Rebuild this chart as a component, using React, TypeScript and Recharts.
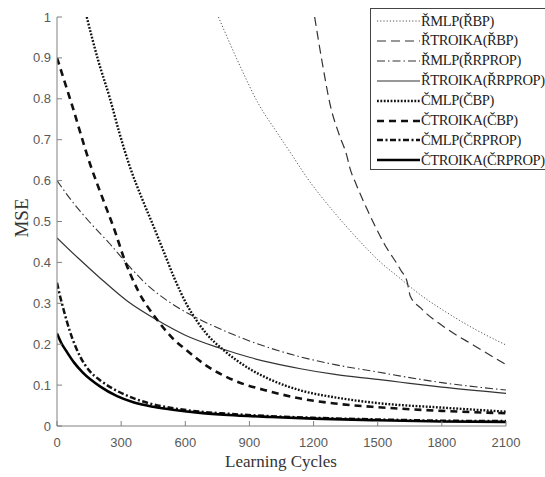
import { LineChart, Line, XAxis, YAxis } from "recharts";

// Learning-cycle / MSE pairs, one list per training run.
const rMlpRbp = [
  [755, 1], [858, 0.878], [940, 0.79], [1031, 0.716], [1100, 0.662], [1172, 0.605], [1233, 0.563],
  [1350, 0.49], [1452, 0.432], [1514, 0.4], [1600, 0.363], [1669, 0.333], [1750, 0.302],
  [1800, 0.285], [1950, 0.238], [2100, 0.198],
];
const rTroikaRbp = [
  [1205, 1], [1240, 0.89], [1280, 0.78], [1320, 0.712], [1356, 0.66], [1368, 0.634], [1400, 0.59],
  [1452, 0.528], [1529, 0.447], [1608, 0.381], [1638, 0.352], [1652, 0.318], [1702, 0.288],
  [1828, 0.236], [1950, 0.197], [2100, 0.15],
];
const rMlpRrprop = [
  [0, 0.6], [61, 0.556], [150, 0.5], [248, 0.445], [330, 0.395], [422, 0.345], [540, 0.298],
  [670, 0.26], [800, 0.229], [900, 0.208], [1000, 0.19], [1139, 0.169], [1300, 0.15],
  [1500, 0.132], [1608, 0.122], [1800, 0.106], [2100, 0.088],
];
const rTroikaRrprop = [
  [0, 0.46], [100, 0.41], [201, 0.362], [330, 0.305], [468, 0.259], [600, 0.222], [764, 0.19],
  [900, 0.168], [1000, 0.155], [1139, 0.14], [1300, 0.126], [1500, 0.114], [1608, 0.107],
  [1800, 0.095], [2100, 0.08],
];
const cMlpCbp = [
  [139, 1], [192, 0.895], [248, 0.8], [290, 0.72], [340, 0.635], [400, 0.553], [450, 0.49],
  [500, 0.425], [550, 0.36], [609, 0.295], [650, 0.26], [700, 0.225], [778, 0.186], [900, 0.14],
  [1000, 0.113], [1139, 0.087], [1300, 0.07], [1500, 0.056], [1800, 0.045], [2100, 0.035],
];
const cTroikaCbp = [
  [0, 0.9], [70, 0.785], [155, 0.64], [216, 0.553], [272, 0.475], [310, 0.415],
  [380, 0.33], [468, 0.26], [540, 0.215], [609, 0.184], [700, 0.147], [826, 0.112],
  [1000, 0.084], [1139, 0.067], [1300, 0.055], [1500, 0.046], [1800, 0.037], [2100, 0.031],
];
const cMlpCrprop = [
  [0, 0.35], [15, 0.316], [30, 0.286], [60, 0.232], [108, 0.17], [150, 0.136], [201, 0.112],
  [280, 0.086], [357, 0.068], [450, 0.053], [550, 0.043], [670, 0.035], [800, 0.03],
  [1000, 0.024], [1200, 0.02], [1500, 0.016], [1800, 0.013], [2100, 0.012],
];
const cTroikaCrprop = [
  [0, 0.226], [20, 0.203], [45, 0.182], [80, 0.155], [122, 0.13], [201, 0.097], [281, 0.073],
  [357, 0.058], [450, 0.047], [550, 0.039], [670, 0.032], [800, 0.027], [1000, 0.022],
  [1200, 0.018], [1500, 0.014], [1800, 0.011], [2100, 0.01],
];

const xTicks = [0, 300, 600, 900, 1200, 1500, 1800, 2100];
const yTicks = [0, 0.1, 0.2, 0.3, 0.4, 0.5, 0.6, 0.7, 0.8, 0.9, 1];

const seriesNames = [
  "ŘMLP(ŘBP)", "ŘTROIKA(ŘBP)", "ŘMLP(ŘRPROP)", "ŘTROIKA(ŘRPROP)",
  "ČMLP(ČBP)", "ČTROIKA(ČBP)", "ČMLP(ČRPROP)", "ČTROIKA(ČRPROP)",
];
const seriesData = [rMlpRbp, rTroikaRbp, rMlpRrprop, rTroikaRrprop, cMlpCbp, cTroikaCbp, cMlpCrprop, cTroikaCrprop];

// line looks, MATLAB-ish: thin styles for Ř runs, bold ones for Č runs
const styles = [
  { stroke: "#555", width: 1, dash: "1.2 2" },
  { stroke: "#333", width: 1.2, dash: "9 5" },
  { stroke: "#333", width: 1.1, dash: "8 3 1.5 3" },
  { stroke: "#333", width: 1.2, dash: undefined },
  { stroke: "#111", width: 2.4, dash: "1.8 1.6" },
  { stroke: "#111", width: 2.6, dash: "7 5" },
  { stroke: "#111", width: 2.5, dash: "6 2.5 2 2.5" },
  { stroke: "#000", width: 2.6, dash: undefined },
];

const AXIS = "#808080";
const TICK_TEXT = "#595959";
const SANS = "'Liberation Sans', Arial, sans-serif";
const SERIF = "'Liberation Serif', 'Times New Roman', serif";

const fmtY = (v: number) => (v === 0 || v === 1 ? String(v) : v.toFixed(1));

// ticks point inward, like MATLAB's box axes
const BottomTick = ({ x, y, payload }: any) => (
  <g>
    <line x1={x} y1={y} x2={x} y2={y - 5} stroke={AXIS} />
    <text x={x} y={y + 21} textAnchor="middle" fontFamily={SANS} fontSize={13} fill={TICK_TEXT}>
      {payload.value}
    </text>
  </g>
);
const LeftTick = ({ x, y, payload }: any) => (
  <g>
    <line x1={x} y1={y} x2={x + 5} y2={y} stroke={AXIS} />
    <text x={x - 6} y={y + 4.5} textAnchor="end" fontFamily={SANS} fontSize={13} fill={TICK_TEXT}>
      {fmtY(payload.value)}
    </text>
  </g>
);
const TopTick = ({ x, y }: any) => <line x1={x} y1={y} x2={x} y2={y + 5} stroke={AXIS} />;
const RightTick = ({ x, y }: any) => <line x1={x} y1={y} x2={x - 5} y2={y} stroke={AXIS} />;

function LegendBox() {
  return (
    <div
      style={{
        position: "absolute",
        left: 370,
        top: 8,
        width: 180,
        height: 162,
        boxSizing: "border-box",
        border: "1px solid #444",
        background: "#fff",
      }}
    >
      {seriesNames.map((name, i) => {
        const s = styles[i];
        return (
          <div
            key={name}
            style={{ position: "absolute", left: 0, top: 2 + i * 19.9, height: 20, display: "flex", alignItems: "center" }}
          >
            <svg width={50} height={20}>
              <line x1={6} y1={10} x2={49} y2={10} stroke={s.stroke} strokeWidth={s.width} strokeDasharray={s.dash} />
            </svg>
            <span style={{ fontFamily: SERIF, fontSize: 14.5, color: "#222", letterSpacing: -0.4, whiteSpace: "nowrap" }}>
              {name}
            </span>
          </div>
        );
      })}
    </div>
  );
}

export default function App() {
  return (
    <div style={{ position: "relative", width: 545, height: 477, overflow: "hidden", background: "#fff" }}>
      <style>{`body{margin:0}`}</style>
      <LineChart width={545} height={477} margin={{ top: 17, right: 39, bottom: 0, left: 0 }}>
        <XAxis
          type="number"
          dataKey="x"
          domain={[0, 2100]}
          ticks={xTicks}
          height={51}
          tickSize={0}
          tickMargin={0}
          tickLine={false}
          axisLine={{ stroke: AXIS }}
          tick={<BottomTick />}
          allowDataOverflow
        />
        <XAxis
          xAxisId="top"
          orientation="top"
          type="number"
          domain={[0, 2100]}
          ticks={xTicks}
          height={0}
          tickSize={0}
          tickMargin={0}
          tickLine={false}
          axisLine={{ stroke: AXIS }}
          tick={<TopTick />}
        />
        <YAxis
          type="number"
          domain={[0, 1]}
          ticks={yTicks}
          width={57}
          tickSize={0}
          tickMargin={0}
          tickLine={false}
          axisLine={{ stroke: AXIS }}
          tick={<LeftTick />}
          allowDataOverflow
        />
        <YAxis
          yAxisId="right"
          orientation="right"
          type="number"
          domain={[0, 1]}
          ticks={yTicks}
          width={0}
          tickSize={0}
          tickMargin={0}
          tickLine={false}
          axisLine={{ stroke: AXIS }}
          tick={<RightTick />}
        />
        {seriesData.map((pts, i) => (
          <Line
            key={seriesNames[i]}
            data={pts.map(([x, y]) => ({ x, y }))}
            dataKey="y"
            type="monotone"
            stroke={styles[i].stroke}
            strokeWidth={styles[i].width}
            strokeDasharray={styles[i].dash}
            dot={false}
            activeDot={false}
            isAnimationActive={false}
          />
        ))}
      </LineChart>
      <div
        style={{
          position: "absolute",
          left: 22,
          top: 218,
          transform: "translate(-50%, -50%) rotate(-90deg)",
          fontFamily: SERIF,
          fontSize: 19,
          color: "#333",
          whiteSpace: "nowrap",
        }}
      >
        MSE
      </div>
      <div
        style={{
          position: "absolute",
          left: 281,
          top: 462,
          transform: "translate(-50%, -50%)",
          fontFamily: SERIF,
          fontSize: 17,
          color: "#333",
          whiteSpace: "nowrap",
        }}
      >
        Learning Cycles
      </div>
      <LegendBox />
    </div>
  );
}
